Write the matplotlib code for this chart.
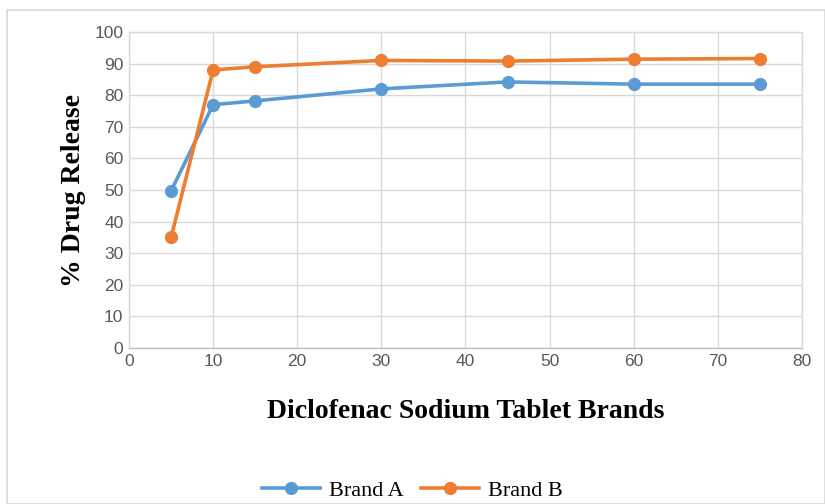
import matplotlib.pyplot as plt
from matplotlib.patches import Rectangle

# dissolution data
time_pts = [5, 10, 15, 30, 45, 60, 75]
brand_a = [49.7, 77.0, 78.2, 82.0, 84.2, 83.5, 83.5]
brand_b = [35.0, 88.0, 89.0, 91.0, 90.8, 91.4, 91.6]
series_names = ['Brand A', 'Brand B']
x_ticks = list(range(0, 81, 10))
y_ticks = list(range(0, 101, 10))

blue = '#5B9BD5'
orange = '#ED7D31'
grid_col = '#D9D9D9'

fig = plt.figure(figsize=(8.25, 5.04), dpi=100)
fig.patches.append(Rectangle((0.008, 0.0), 0.992, 0.98, transform=fig.transFigure,
                             fill=False, edgecolor='#D9D9D9', linewidth=1.2))

ax = fig.add_axes([0.1564, 0.3095, 0.8156, 0.627])
ax.plot(time_pts, brand_a, color=blue, lw=2.6, marker='o', ms=8.5, label=series_names[0], zorder=3)
ax.plot(time_pts, brand_b, color=orange, lw=2.6, marker='o', ms=8.5, label=series_names[1], zorder=3)

ax.set_xlim(0, 80)
ax.set_ylim(0, 100)
ax.set_xticks(x_ticks)
ax.set_yticks(y_ticks)
ax.grid(True, color=grid_col, lw=1.0)
ax.set_axisbelow(True)
for sp in ax.spines.values():
    sp.set_color(grid_col)
    sp.set_linewidth(1.0)
ax.spines['bottom'].set_color('#BFBFBF')
ax.tick_params(length=0, labelsize=12.5, labelcolor='#595959', pad=4)
for lab in ax.get_xticklabels() + ax.get_yticklabels():
    lab.set_fontfamily('Liberation Sans')

ax.set_xlabel('Diclofenac Sodium Tablet Brands', fontfamily='Liberation Serif',
              fontweight='bold', fontsize=20, labelpad=22)
ax.set_ylabel('% Drug Release', fontfamily='Liberation Serif',
              fontweight='bold', fontsize=20, labelpad=6)

fig.legend(loc='center', bbox_to_anchor=(0.5, 0.027), ncol=2, frameon=False,
           prop={'family': 'Liberation Serif', 'size': 16}, handlelength=2.6,
           columnspacing=0.8, handletextpad=0.4)

fig.savefig('out.png', dpi=100)
